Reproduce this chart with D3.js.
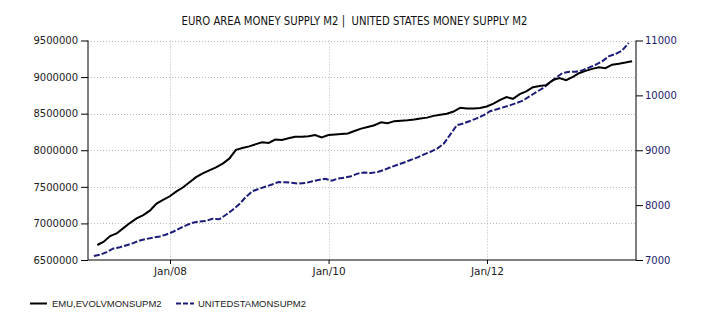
<!DOCTYPE html>
<html><head><meta charset="utf-8">
<script src="https://cdn.jsdelivr.net/npm/d3@7"></script>
<style>body{margin:0;background:#fff;}svg{display:block;}</style>
</head><body>
<svg id="chart" width="710" height="325"></svg>
<script>
const title = "EURO AREA MONEY SUPPLY M2 |  UNITED STATES MONEY SUPPLY M2";
const seriesNames = ["EMU,EVOLVMONSUPM2", "UNITEDSTAMONSUPM2"];
const xTickDates = ["2008-01-01", "2010-01-01", "2012-01-01"];
const xTickLabels = ["Jan/08", "Jan/10", "Jan/12"];
const leftTicks = [6500000, 7000000, 7500000, 8000000, 8500000, 9000000, 9500000];
const rightTicks = [7000, 8000, 9000, 10000, 11000];
// EMU M2, monthly (end of month) Jan 2007 - Oct 2013
const emuValues = [6705000,6747000,6828000,6863000,6936000,7005000,7068000,7114000,7175000,7270000,
7323000,7371000,7438000,7491000,7562000,7632000,7685000,7725000,7766000,7818000,
7885000,8005000,8031000,8053000,8084000,8109000,8100000,8147000,8140000,8163000,
8184000,8184000,8192000,8207000,8175000,8207000,8214000,8221000,8230000,8263000,
8296000,8318000,8342000,8382000,8369000,8398000,8404000,8409000,8420000,8435000,
8446000,8470000,8485000,8498000,8529000,8582000,8571000,8570000,8578000,8599000,
8637000,8686000,8726000,8703000,8767000,8805000,8861000,8879000,8890000,8959000,
8988000,8958000,9003000,9053000,9085000,9112000,9135000,9122000,9170000,9182000,
9198000,9217000];
// US M2, monthly (mid-month) Jan 2007 - Oct 2013
const usValues = [7073,7098,7144,7210,7233,7270,7308,7357,7384,7408,
7428,7465,7514,7578,7632,7680,7701,7712,7751,7743,
7824,7911,8015,8146,8255,8297,8334,8376,8421,8416,
8408,8392,8401,8432,8458,8479,8447,8487,8500,8527,
8574,8596,8585,8603,8643,8693,8736,8776,8824,8871,
8920,8971,9026,9115,9281,9456,9489,9533,9582,9636,
9711,9746,9782,9817,9859,9906,9981,10059,10132,10225,
10325,10409,10431,10431,10456,10506,10555,10619,10711,10753,
10817,10954];

const emuDates = emuValues.map((v,i)=> d3.utcDay.offset(d3.utcMonth.offset(new Date(Date.UTC(2007,1,1)), i), -1));
const usDates = usValues.map((v,i)=> d3.utcDay.offset(d3.utcMonth.offset(new Date(Date.UTC(2007,0,1)), i), 14));

const svg = d3.select("#chart");
const L = 88, R = 636, T = 40.5, B = 260;

const x = d3.scaleUtc().domain([new Date(Date.UTC(2006,11,19)), new Date(Date.UTC(2013,10,18))]).range([L, R]);
const yL = d3.scaleLinear().domain([6500000, 9500000]).range([B, T]);
const yR = d3.scaleLinear().domain([7000, 11000]).range([B, T]);

const fontTick = "DejaVu Sans, Verdana, sans-serif";

// gridlines
const grid = svg.append("g");
grid.selectAll("line.h").data(leftTicks.slice(1)).join("line")
  .attr("x1", L).attr("x2", R).attr("y1", d=>Math.round(yL(d))+0.5).attr("y2", d=>Math.round(yL(d))+0.5)
  .attr("stroke", "#b8b8b8").attr("stroke-width", 1).attr("stroke-dasharray", "1,2");
grid.selectAll("line.v").data(xTickDates).join("line")
  .attr("x1", d=>Math.round(x(new Date(d)))+0.5).attr("x2", d=>Math.round(x(new Date(d)))+0.5)
  .attr("y1", T).attr("y2", B)
  .attr("stroke", "#b8b8b8").attr("stroke-width", 1).attr("stroke-dasharray", "1,2");

// axes
const axL = d3.axisLeft(yL).tickValues(leftTicks).tickFormat(d3.format("d")).tickSize(7).tickPadding(3);
const gL = svg.append("g").attr("transform", `translate(${L},0)`).call(axL);
gL.select(".domain").attr("d", `M0,${T}V${B}`).attr("stroke","#000");
gL.selectAll("text").attr("font-family", fontTick).attr("font-size", 10).attr("fill", "#222");

const axR = d3.axisRight(yR).tickValues(rightTicks).tickFormat(d3.format("d")).tickSize(7).tickPadding(2);
const gR = svg.append("g").attr("transform", `translate(${R},0)`).call(axR);
gR.select(".domain").attr("d", `M0,${T}V${B}`).attr("stroke","#000");
gR.selectAll("text").attr("font-family", fontTick).attr("font-size", 10).attr("fill", "#1c1c6e");

const axB = d3.axisBottom(x).tickValues(xTickDates.map(d=>new Date(d))).tickFormat((d,i)=>xTickLabels[i]).tickSize(4).tickPadding(4);
const gB = svg.append("g").attr("transform", `translate(0,${B})`).call(axB);
gB.select(".domain").attr("d", `M${L},0H${R}`).attr("stroke","#000");
gB.selectAll("text").attr("font-family", fontTick).attr("font-size", 10.5).attr("fill", "#222");
svg.selectAll(".tick line").attr("stroke", "#000");

// lines
const lineL = d3.line().x((d,i)=>x(emuDates[i])).y(d=>yL(d));
const lineR = d3.line().x((d,i)=>x(usDates[i])).y(d=>yR(d));
svg.append("path").datum(usValues).attr("d", lineR).attr("fill","none")
  .attr("stroke","#1c1c7a").attr("stroke-width",2).attr("stroke-dasharray","6,2");
svg.append("path").datum(emuValues).attr("d", lineL).attr("fill","none")
  .attr("stroke","#000").attr("stroke-width",2);

// title
svg.append("text").attr("x", 354.5).attr("y", 25).attr("text-anchor","middle")
  .style("white-space","pre")
  .attr("font-family","DejaVu Sans Condensed, DejaVu Sans, sans-serif").attr("font-size", 12.5)
  .attr("fill","#111").attr("textLength", 346).attr("lengthAdjust","spacingAndGlyphs")
  .text(title);

// legend
const leg = svg.append("g");
leg.append("line").attr("x1",30).attr("x2",47).attr("y1",303.5).attr("y2",303.5).attr("stroke","#000").attr("stroke-width",2);
leg.append("text").attr("x",52).attr("y",307).attr("font-family","Liberation Sans, Arial, sans-serif").attr("font-size",9.5).attr("fill","#222").text(seriesNames[0]);
leg.append("line").attr("x1",176).attr("x2",194).attr("y1",303.5).attr("y2",303.5).attr("stroke","#1c1c7a").attr("stroke-width",2).attr("stroke-dasharray","5,2");
leg.append("text").attr("x",198).attr("y",307).attr("font-family","Liberation Sans, Arial, sans-serif").attr("font-size",9.5).attr("fill","#222").text(seriesNames[1]);
</script>
</body></html>
